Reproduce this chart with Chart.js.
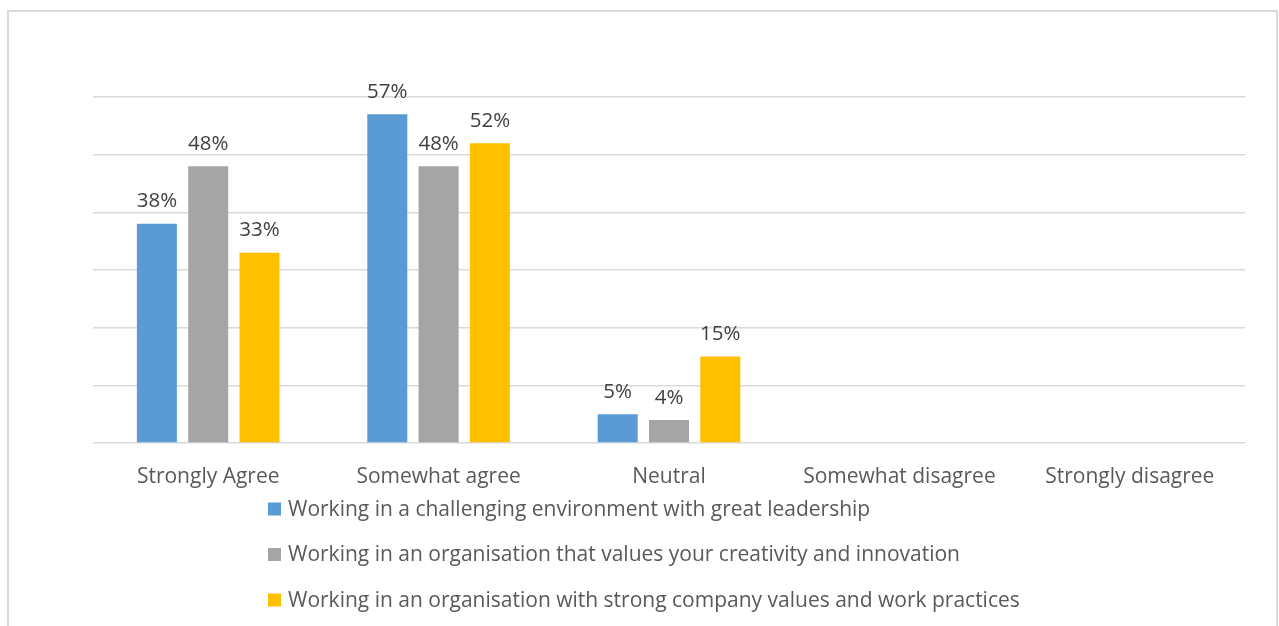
<!DOCTYPE html>
<html>
<head>
<meta charset="utf-8">
<script src="https://cdn.jsdelivr.net/npm/chart.js@4.4.1/dist/chart.umd.min.js"></script>
<style>
	html,body{margin:0;padding:0;background:#fff;overflow:hidden;}
	#marco{position:absolute;left:7px;top:10px;width:1267px;height:640px;border:2px solid #d9d9d9;}
	#cont{position:absolute;left:0;top:0;width:1279px;height:626px;}
</style>
</head>
<body>
<div id="marco"></div>
<div id="cont"><canvas id="grafica"></canvas></div>
<script>
var CATEGORIAS=["Strongly Agree","Somewhat agree","Neutral","Somewhat disagree","Strongly disagree"];
var SERIES=["Working in a challenging environment with great leadership","Working in an organisation that values your creativity and innovation","Working in an organisation with strong company values and work practices"];
var LIDERAZGO=[38,57,5,0,0];
var CREATIVIDAD=[48,48,4,0,0];
var VALORES=[33,52,15,0,0];
var COLORES=["#5b9bd5","#a5a5a5","#ffc000"];
var FUENTE="'Open Sans', sans-serif";

// etiquetas de porcentaje encima de cada barra
var etiquetasBarras={
	id:'etiquetasBarras',
	afterDatasetsDraw:function(chart){
		var ctx=chart.ctx;
		ctx.save();
		ctx.font='20.5px '+FUENTE;
		ctx.fillStyle='#404040';
		ctx.textAlign='center';
		ctx.textBaseline='bottom';
		chart.data.datasets.forEach(function(ds,i){
			var meta=chart.getDatasetMeta(i);
			meta.data.forEach(function(bar,j){
				if(ds.data[j]>0){
					ctx.fillText(ds.data[j]+'%',bar.x,bar.y-12);
				}
			});
		});
		ctx.restore();
	}
};

// leyenda vertical como en el original
var leyenda={
	id:'leyenda',
	afterDraw:function(chart){
		var ctx=chart.ctx;
		ctx.save();
		ctx.font='21px '+FUENTE;
		ctx.textBaseline='middle';
		ctx.textAlign='left';
		chart.data.datasets.forEach(function(ds,i){
			var y=509+i*45.5;
			ctx.fillStyle=ds.backgroundColor;
			ctx.fillRect(268,y-6.5,13,13);
			ctx.fillStyle='#595959';
			ctx.fillText(ds.label,288,y+1);
		});
		ctx.restore();
	}
};

var datasets=[
	{label:SERIES[0],data:LIDERAZGO,backgroundColor:COLORES[0]},
	{label:SERIES[1],data:CREATIVIDAD,backgroundColor:COLORES[1]},
	{label:SERIES[2],data:VALORES,backgroundColor:COLORES[2]}
];

var config={
	type:'bar',
	data:{labels:CATEGORIAS,datasets:datasets},
	options:{
		responsive:true,
		maintainAspectRatio:false,
		animation:false,
		datasets:{bar:{categoryPercentage:0.668,barPercentage:0.78}},
		layout:{padding:{top:97,right:34,left:0,bottom:0}},
		plugins:{legend:{display:false},tooltip:{enabled:false}},
		scales:{
			x:{
				grid:{display:false},
				border:{display:false},
				ticks:{color:'#595959',font:{family:FUENTE,size:21},padding:13,maxRotation:0,autoSkip:false},
				afterFit:function(scale){scale.height=183;}
			},
			y:{
				min:0,max:60,
				ticks:{display:false,stepSize:10},
				grid:{color:'#d9d9d9',lineWidth:1.5,drawTicks:false},
				border:{display:false},
				afterFit:function(scale){scale.width=93;}
			}
		}
	},
	plugins:[etiquetasBarras,leyenda]
};

new Chart(document.getElementById('grafica').getContext('2d'),config);
</script>
</body>
</html>
